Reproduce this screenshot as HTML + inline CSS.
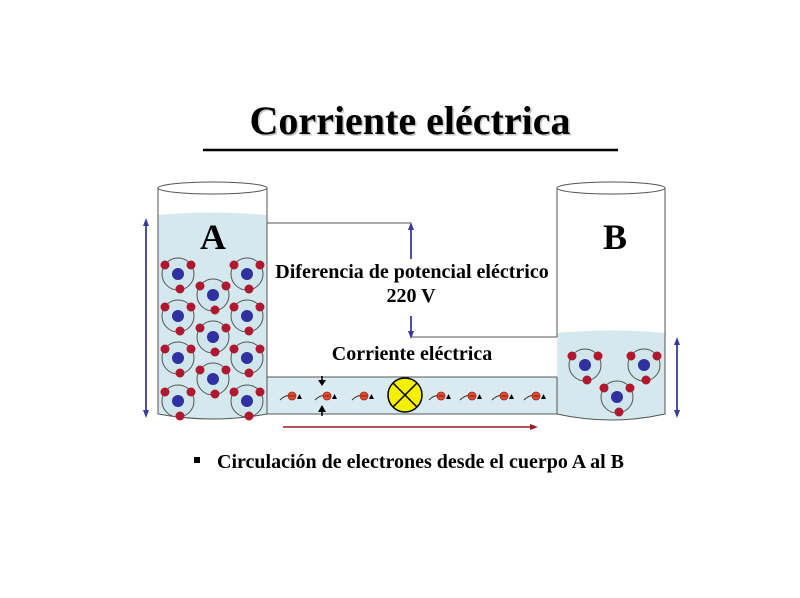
<!DOCTYPE html>
<html><head><meta charset="utf-8"><style>
html,body{margin:0;padding:0;background:#fff;}
svg{display:block}
</style></head><body>
<svg width="800" height="598" viewBox="0 0 800 598" xmlns="http://www.w3.org/2000/svg" font-family="Liberation Serif, serif" font-weight="bold">
<defs>
<g id="atom">
<circle r="16" fill="#cfe6ec" stroke="#555" stroke-width="1"/>
<circle r="6" fill="#3030a0"/>
<circle cx="-13" cy="-9" r="4.5" fill="#b01830"/>
<circle cx="13" cy="-9" r="4.5" fill="#b01830"/>
<circle cx="2" cy="15" r="4.5" fill="#b01830"/>
</g>
<g id="el">
<path d="M-12,4 Q-6,-2 0,0" fill="none" stroke="#333" stroke-width="1"/>
<circle r="4" fill="#e05030" stroke="#a02010" stroke-width="0.8"/>
<line x1="-2.5" y1="0" x2="2.5" y2="0" stroke="#600" stroke-width="0.8"/>
<polygon points="5,3 10,3 7.5,-2" fill="#000"/>
</g>
</defs>
<!-- title -->
<text x="411.5" y="135.5" font-size="40" text-anchor="middle" fill="#c8c8c8">Corriente eléctrica</text>
<text x="410" y="134" font-size="40" text-anchor="middle" fill="#000">Corriente eléctrica</text>
<line x1="203" y1="150" x2="618" y2="150" stroke="#000" stroke-width="2.5"/>

<!-- pipe -->
<rect x="266" y="377" width="292" height="37" fill="#d9ebf0"/>
<line x1="266" y1="377" x2="558" y2="377" stroke="#555" stroke-width="1"/>
<line x1="266" y1="414" x2="558" y2="414" stroke="#555" stroke-width="1"/>

<!-- cylinder A -->
<path d="M158,215 Q212,210 267,215 L267,414 Q212,424 158,414 Z" fill="#d4e8ee"/>
<path d="M158,188 L158,414 Q212,424 267,414 L267,377 M267,223 L267,188" fill="none" stroke="#555" stroke-width="1"/>
<ellipse cx="212.5" cy="188" rx="54.5" ry="6" fill="#fff" stroke="#555" stroke-width="1"/>
<text x="213" y="249" font-size="36" text-anchor="middle">A</text>

<!-- cylinder B -->
<path d="M557,333 Q611,328 665,333 L665,414 Q611,426 557,414 Z" fill="#d4e8ee"/>
<path d="M557,188 L557,337 M557,377 L557,414 Q611,426 665,414 L665,188" fill="none" stroke="#555" stroke-width="1"/>
<ellipse cx="611" cy="188" rx="54" ry="6" fill="#fff" stroke="#555" stroke-width="1"/>
<text x="615" y="249" font-size="36" text-anchor="middle">B</text>

<!-- connecting lines -->
<line x1="267" y1="223" x2="411" y2="223" stroke="#555" stroke-width="1"/>
<line x1="411" y1="337" x2="557" y2="337" stroke="#555" stroke-width="1"/>
<line x1="267" y1="223" x2="267" y2="377" stroke="#555" stroke-width="1"/>

<!-- arrows blue -->
<g stroke="#3a3a9a" stroke-width="1.8" fill="#3a3a9a">
<line x1="411" y1="259" x2="411" y2="228"/><polygon points="408,230 414,230 411,222" stroke="none"/>
<line x1="411" y1="316" x2="411" y2="332"/><polygon points="408,331 414,331 411,339" stroke="none"/>
<line x1="146" y1="224" x2="146" y2="412"/><polygon points="143,226 149,226 146,218" stroke="none"/><polygon points="143,410 149,410 146,418" stroke="none"/>
<line x1="677" y1="343" x2="677" y2="412"/><polygon points="674,345 680,345 677,337" stroke="none"/><polygon points="674,410 680,410 677,418" stroke="none"/>
</g>
<!-- red arrow -->
<line x1="283" y1="427" x2="532" y2="427" stroke="#a01828" stroke-width="1.5"/>
<polygon points="530,424 538,427 530,430" fill="#a01828"/>

<!-- labels -->
<text x="412" y="278" font-size="20" text-anchor="middle">Diferencia de potencial eléctrico</text>
<text x="411" y="302" font-size="20" text-anchor="middle">220 V</text>
<text x="412" y="360" font-size="20" text-anchor="middle">Corriente eléctrica</text>

<!-- atoms A -->
<use href="#atom" x="178" y="274"/><use href="#atom" x="247" y="274"/>
<use href="#atom" x="178" y="316"/><use href="#atom" x="247" y="316"/>
<use href="#atom" x="178" y="358"/><use href="#atom" x="247" y="358"/>
<use href="#atom" x="178" y="401"/><use href="#atom" x="247" y="401"/>
<use href="#atom" x="213" y="295"/><use href="#atom" x="213" y="337"/><use href="#atom" x="213" y="379"/>
<!-- atoms B -->
<use href="#atom" x="585" y="365"/><use href="#atom" x="644" y="365"/><use href="#atom" x="617" y="397"/>

<!-- electrons -->
<use href="#el" x="292" y="396"/><use href="#el" x="327" y="396"/><use href="#el" x="364" y="396"/>
<use href="#el" x="441" y="396"/><use href="#el" x="472" y="396"/><use href="#el" x="504" y="396"/><use href="#el" x="536" y="396"/>
<!-- pinch arrows -->
<polygon points="318,380 326,380 322,386" fill="#000"/><line x1="322" y1="376" x2="322" y2="381" stroke="#000" stroke-width="1.5"/>
<polygon points="318,412 326,412 322,405" fill="#000"/><line x1="322" y1="411" x2="322" y2="416" stroke="#000" stroke-width="1.5"/>

<!-- lamp -->
<circle cx="405" cy="395" r="17" fill="#f5f000" stroke="#000" stroke-width="1.5"/>
<line x1="393" y1="383" x2="417" y2="407" stroke="#000" stroke-width="1.5"/>
<line x1="417" y1="383" x2="393" y2="407" stroke="#000" stroke-width="1.5"/>

<!-- bullet -->
<rect x="194" y="457" width="6" height="6" fill="#000"/>
<text x="217" y="468" font-size="20">Circulación de electrones desde el cuerpo A al B</text>
</svg>
</body></html>
